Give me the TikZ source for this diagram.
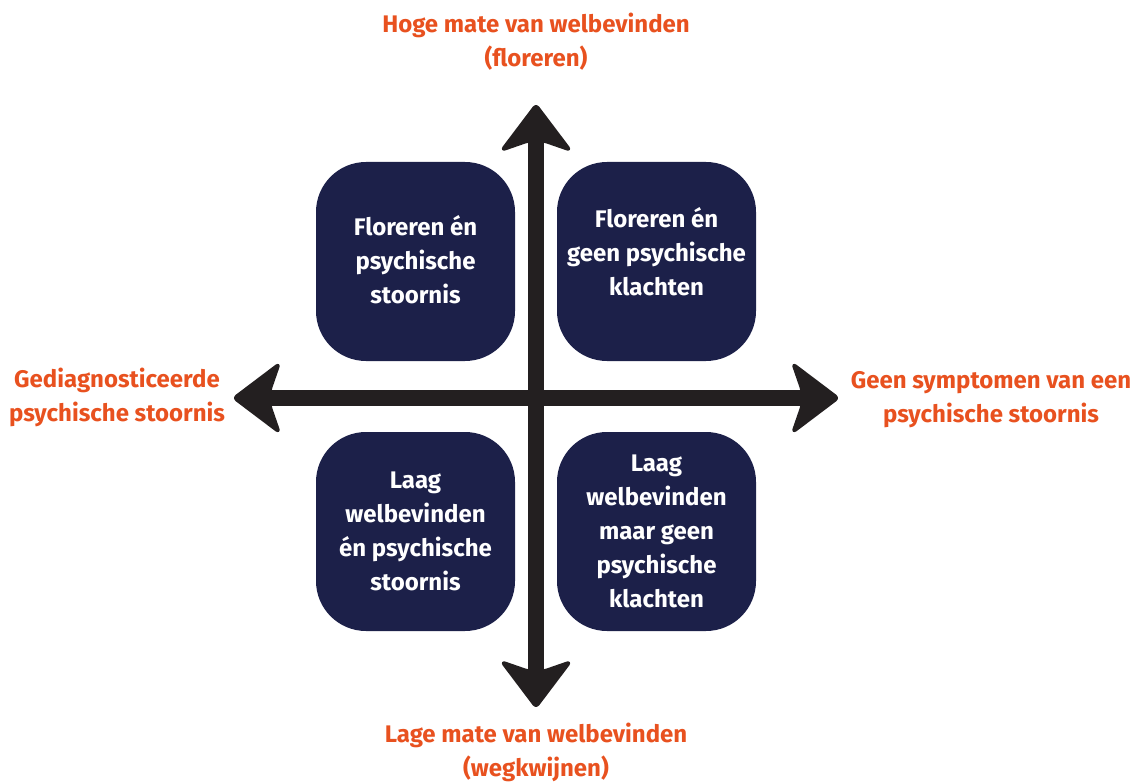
\documentclass[tikz,border=0pt]{standalone}
\usepackage{fontspec}
\setmainfont{Fira Sans}
\usetikzlibrary{calc}
\definecolor{navy}{HTML}{1C2049}
\definecolor{orangeT}{HTML}{E8511F}
\definecolor{arrowC}{HTML}{231F20}
\tikzset{
  quad/.style={fill=navy, rounded corners=50pt, minimum width=199pt, minimum height=199pt, inner sep=0pt},
  qtext/.style={text=white, font=\bfseries\fontsize{24}{34}\selectfont, align=center},
  axlabel/.style={text=orangeT, font=\bfseries\fontsize{24}{34}\selectfont, align=center},
  shaft/.style={draw=arrowC, line width=16pt},
  head/.style={fill=arrowC, draw=arrowC, line width=3pt, line join=round, rounded corners=3pt},
}
\begin{document}
\begin{tikzpicture}[x=1pt,y=-1pt]
\useasboundingbox (0,0) rectangle (1142,783);
% quadrant boxes
\node[quad] (tl) at (415.5,261.5) {};
\node[quad] (tr) at (656.5,261.5) {};
\node[quad] (bl) at (415.5,531.5) {};
\node[quad] (br) at (656.5,531.5) {};
% axes
\coordinate (top) at (536,105);
\coordinate (bot) at (536,707);
\coordinate (lft) at (234,398);
\coordinate (rgt) at (838,398);
\draw[shaft] ($(top)+(0,30)$) -- ($(bot)+(0,-30)$);
\draw[shaft] ($(lft)+(30,0)$) -- ($(rgt)+(-30,0)$);
% arrow heads
\fill[head] (top) -- ++(34,45) -- ++(-26,-9) -- ++(-16,0) -- ++(-26,9) -- cycle;
\fill[head] (bot) -- ++(34,-45) -- ++(-26,9) -- ++(-16,0) -- ++(-26,-9) -- cycle;
\fill[head] (lft) -- ++(45,34) -- ++(-9,-26) -- ++(0,-16) -- ++(9,-26) -- cycle;
\fill[head] (rgt) -- ++(-45,34) -- ++(9,-26) -- ++(0,-16) -- ++(-9,-26) -- cycle;
% box texts
\node[qtext] (tlt) at ($(tl)+(0,-2)$) {Floreren én\\psychische\\stoornis};
\node[qtext] (trt) at ($(tr)+(0,-10)$) {Floreren én\\geen psychische\\klachten};
\node[qtext] (blt) at (bl) {Laag\\welbevinden\\én psychische\\stoornis};
\node[qtext] (brt) at (br) {Laag\\welbevinden\\maar geen\\psychische\\klachten};
% axis labels
\node[axlabel] (tlab) at (536,42) {Hoge mate van welbevinden\\(floreren)};
\node[axlabel] (blab) at (536,752) {Lage mate van welbevinden\\(wegkwijnen)};
\node[axlabel] (llab) at (117,397) {Gediagnosticeerde\\psychische stoornis};
\node[axlabel] (rlab) at (991,400) {Geen symptomen van een\\psychische stoornis};
\end{tikzpicture}
\end{document}
